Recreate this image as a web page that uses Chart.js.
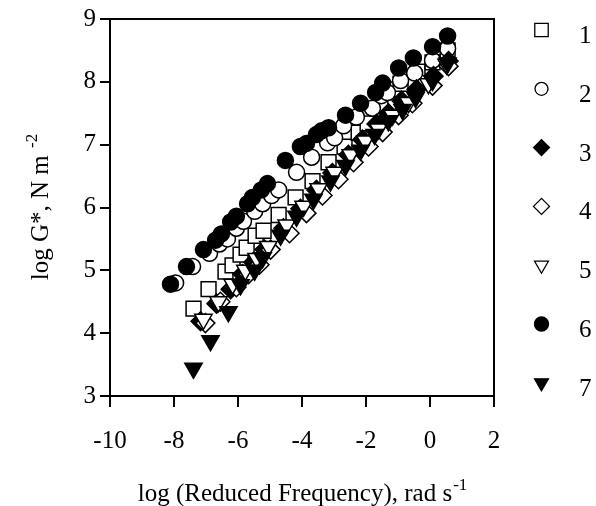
<!DOCTYPE html>
<html>
<head>
<meta charset="utf-8">
<script src="https://cdn.jsdelivr.net/npm/chart.js@4/dist/chart.umd.min.js"></script>
<style>
  html, body { margin: 0; padding: 0; background: #fff; }
  #wrap { width: 596px; height: 506px; }
</style>
</head>
<body>
<div id="wrap"><canvas id="chart" width="596" height="506"></canvas></div>
<script>
"use strict";

const FONT = "'Liberation Serif', 'Times New Roman', serif";

const xTicks = [-10, -8, -6, -4, -2, 0, 2];
const yTicks = [3, 4, 5, 6, 7, 8, 9];
const seriesLabels = ["1", "2", "3", "4", "5", "6", "7"];

// series 1, open squares
const s1x = [-7.39, -6.92, -6.39, -6.17, -5.92, -5.73, -5.45, -5.2, -4.73, -4.2, -3.67, -3.17, -2.67, -2.23, -1.95, -1.55, -1.11, -0.92, -0.39, 0.08, 0.55];
const s1y = [4.39, 4.7, 4.98, 5.08, 5.25, 5.36, 5.55, 5.63, 5.88, 6.16, 6.42, 6.72, 6.97, 7.19, 7.34, 7.63, 7.88, 7.97, 8.16, 8.31, 8.5];
// series 2, open circles
const s2x = [-7.95, -7.42, -6.89, -6.58, -6.33, -6.05, -5.83, -5.48, -5.23, -4.95, -4.73, -4.17, -3.7, -3.2, -2.98, -2.7, -2.3, -1.8, -1.52, -1.33, -0.92, -0.48, 0.08, 0.55];
const s2y = [4.8, 5.06, 5.27, 5.42, 5.5, 5.67, 5.78, 5.94, 6.06, 6.19, 6.28, 6.56, 6.8, 7.03, 7.11, 7.3, 7.44, 7.58, 7.78, 7.83, 8.02, 8.14, 8.34, 8.53];
// series 3, filled diamonds
const s3x = [-7.17, -6.67, -6.23, -5.86, -5.52, -5.17, -4.58, -4.05, -3.55, -3.05, -2.55, -2.11, -1.67, -1.3, -0.89, -0.42, 0.11, 0.58];
const s3y = [4.19, 4.47, 4.7, 4.94, 5.13, 5.33, 5.67, 5.98, 6.28, 6.55, 6.84, 7.08, 7.33, 7.5, 7.7, 7.88, 8.09, 8.33];
// series 4, open diamonds
const s4x = [-7.02, -6.55, -6.05, -5.67, -5.33, -4.98, -4.39, -3.86, -3.36, -2.86, -2.39, -1.92, -1.48, -0.98, -0.55, 0.08, 0.58];
const s4y = [4.16, 4.5, 4.73, 4.94, 5.09, 5.33, 5.59, 5.91, 6.19, 6.45, 6.72, 6.97, 7.2, 7.47, 7.66, 7.94, 8.25];
// series 5, open down triangles
const s5x = [-7.08, -6.61, -6.17, -5.77, -5.42, -5.05, -4.48, -3.95, -3.48, -2.98, -2.48, -2.02, -1.61, -1.17, -0.67, -0.05, 0.52];
const s5y = [4.22, 4.5, 4.78, 5.0, 5.19, 5.38, 5.72, 6.02, 6.3, 6.56, 6.84, 7.06, 7.25, 7.47, 7.67, 7.97, 8.28];
// series 6, filled circles
const s6x = [-8.11, -7.61, -7.08, -6.7, -6.52, -6.23, -6.05, -5.7, -5.55, -5.27, -5.08, -4.52, -4.05, -3.86, -3.55, -3.39, -3.17, -2.64, -2.17, -1.7, -1.48, -0.98, -0.52, 0.08, 0.55];
const s6y = [4.78, 5.06, 5.33, 5.48, 5.58, 5.77, 5.86, 6.06, 6.16, 6.28, 6.38, 6.75, 6.97, 7.02, 7.16, 7.22, 7.27, 7.47, 7.66, 7.83, 7.98, 8.22, 8.38, 8.56, 8.73];
// series 7, filled down triangles
const s7x = [-7.39, -6.86, -6.3, -5.92, -5.48, -5.23, -4.67, -4.17, -3.64, -3.11, -2.64, -2.17, -1.73, -1.3, -0.86, -0.45, 0.08, 0.55];
const s7y = [3.44, 3.88, 4.34, 4.77, 5.0, 5.2, 5.56, 5.86, 6.13, 6.42, 6.67, 6.91, 7.16, 7.38, 7.56, 7.75, 8.02, 8.3];

const styles = [
  { pointStyle: "rect", fill: "#fff", r: 10.5, rot: 0, lr: 9.5 },
  { pointStyle: "circle", fill: "#fff", r: 8, rot: 0, lr: 6.5 },
  { pointStyle: "rectRot", fill: "#000", r: 9.5, rot: 0, lr: 8 },
  { pointStyle: "rectRot", fill: "#fff", r: 9.5, rot: 0, lr: 8 },
  { pointStyle: "triangle", fill: "#fff", r: 10, rot: 180, lr: 8 },
  { pointStyle: "circle", fill: "#000", r: 8, rot: 0, lr: 7 },
  { pointStyle: "triangle", fill: "#000", r: 10, rot: 180, lr: 8 },
];

const allX = [s1x, s2x, s3x, s4x, s5x, s6x, s7x];
const allY = [s1y, s2y, s3y, s4y, s5y, s6y, s7y];

function toPoints(xs, ys) {
  return xs.map((x, i) => ({ x: x, y: ys[i] }));
}

const datasets = seriesLabels.map((label, i) => ({
  label: label,
  data: toPoints(allX[i], allY[i]),
  pointStyle: styles[i].pointStyle,
  pointRotation: styles[i].rot,
  pointRadius: styles[i].r,
  pointHoverRadius: styles[i].r,
  backgroundColor: styles[i].fill,
  borderColor: "#000",
  borderWidth: 1.5,
  order: 7 - i,
}));

// frame, axis titles with superscripts, and the legend column
const decorations = {
  id: "decorations",
  afterDraw(chart) {
    const ctx = chart.ctx;
    const a = chart.chartArea;
    ctx.save();
    ctx.strokeStyle = "#000";
    ctx.lineWidth = 2;
    ctx.strokeRect(a.left, a.top, a.right - a.left, a.bottom - a.top);

    ctx.fillStyle = "#000";
    ctx.textBaseline = "alphabetic";

    // x title
    const xMain = "log (Reduced Frequency), rad s";
    ctx.font = "25px " + FONT;
    const wMain = ctx.measureText(xMain).width;
    ctx.font = "17px " + FONT;
    const wSup = ctx.measureText("-1").width;
    const cx = (a.left + a.right) / 2;
    const x0 = cx - (wMain + wSup) / 2;
    ctx.font = "25px " + FONT;
    ctx.textAlign = "left";
    ctx.fillText(xMain, x0, 501);
    ctx.font = "17px " + FONT;
    ctx.fillText("-1", x0 + wMain + 1, 490);

    // y title, rotated
    const yMain = "log G*, N m ";
    ctx.translate(48, (a.top + a.bottom) / 2);
    ctx.rotate(-Math.PI / 2);
    ctx.font = "25px " + FONT;
    const wyMain = ctx.measureText(yMain).width;
    ctx.font = "17px " + FONT;
    const wySup = ctx.measureText("-2").width;
    const y0 = -(wyMain + wySup) / 2;
    ctx.font = "25px " + FONT;
    ctx.fillText(yMain, y0, 0);
    ctx.font = "17px " + FONT;
    ctx.fillText("-2", y0 + wyMain + 1, -11);
    ctx.setTransform(1, 0, 0, 1, 0, 0);

    // legend
    const legendTop = 30;
    const legendStep = 58.8;
    chart.data.datasets.forEach((ds, i) => {
      const y = legendTop + i * legendStep;
      ctx.fillStyle = ds.backgroundColor;
      ctx.strokeStyle = "#000";
      ctx.lineWidth = 1.3;
      Chart.helpers.drawPoint(ctx, {
        pointStyle: ds.pointStyle,
        rotation: ds.pointRotation,
        radius: styles[i].lr,
        borderWidth: 1.3,
      }, 541.5, y);
      ctx.fillStyle = "#000";
      ctx.font = "25px " + FONT;
      ctx.textAlign = "left";
      ctx.fillText(ds.label, 579, y + 13);
    });
    ctx.restore();
  },
};

new Chart(document.getElementById("chart"), {
  type: "scatter",
  data: { datasets: datasets },
  options: {
    responsive: false,
    animation: false,
    events: [],
    layout: { padding: { left: 0, top: 12, right: 102, bottom: 0 } },
    plugins: {
      legend: { display: false },
      tooltip: { enabled: false },
    },
    scales: {
      x: {
        type: "linear",
        min: -10,
        max: 2,
        afterFit(scale) { scale.height = 110; },
        afterBuildTicks(scale) { scale.ticks = xTicks.map((v) => ({ value: v })); },
        border: { display: true, color: "#000", width: 2 },
        grid: { drawOnChartArea: false, drawTicks: true, tickLength: 11, color: "#000", lineWidth: 2 },
        ticks: {
          color: "#000",
          font: { family: FONT, size: 25 },
          padding: 19,
          maxRotation: 0,
        },
      },
      y: {
        type: "linear",
        min: 3,
        max: 9,
        afterFit(scale) { scale.width = 110; },
        afterBuildTicks(scale) { scale.ticks = yTicks.map((v) => ({ value: v })); },
        border: { display: true, color: "#000", width: 2 },
        grid: { drawOnChartArea: false, drawTicks: true, tickLength: 10, color: "#000", lineWidth: 2 },
        ticks: {
          color: "#000",
          font: { family: FONT, size: 25 },
          padding: 4,
        },
      },
    },
  },
  plugins: [decorations],
});
</script>
</body>
</html>
